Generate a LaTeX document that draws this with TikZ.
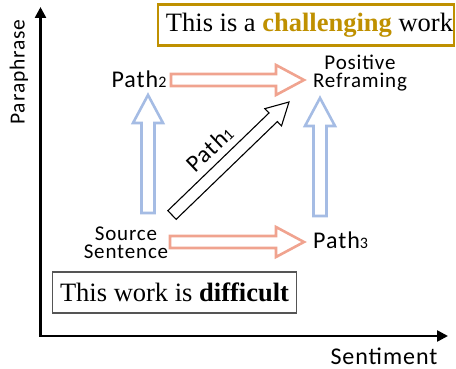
\documentclass[tikz,border=0pt]{standalone}
\usepackage{fontspec}
\setmainfont{Liberation Serif}
\newfontfamily\calfont[LetterSpace=4]{Carlito}
\usetikzlibrary{calc,arrows.meta}
\definecolor{gold}{RGB}{191,144,0}
\definecolor{salmon}{RGB}{240,163,143}
\definecolor{lblue}{RGB}{165,188,228}
\definecolor{boxgray}{RGB}{85,85,85}
\newcommand\pathsub[1]{{\fontsize{16}{16}\selectfont #1}}
\tikzset{
  blk/.style n args={3}{to path={
    let \p1=(\tikztostart), \p2=(\tikztotarget),
        \n1={atan2(\y2-\y1,\x2-\x1)},
        \n2={veclen(\x2-\x1,\y2-\y1)-#3} in
    ($(\p1)+({\n1+90}:#1)$)
    -- ($(\p1)+({\n1}:{\n2})+({\n1+90}:#1)$)
    -- ($(\p1)+({\n1}:{\n2})+({\n1+90}:#2)$)
    -- (\p2)
    -- ($(\p1)+({\n1}:{\n2})+({\n1-90}:#2)$)
    -- ($(\p1)+({\n1}:{\n2})+({\n1-90}:#1)$)
    -- ($(\p1)+({\n1-90}:#1)$) -- cycle}},
  pinkarr/.style={draw=salmon, line width=2.6pt, fill=white, line join=miter, blk={6pt}{15pt}{28pt}},
  bluearr/.style={draw=lblue, line width=2.6pt, fill=white, line join=miter, blk={6.5pt}{15pt}{28pt}},
  blackarr/.style={draw=black, line width=1.1pt, fill=white, line join=miter, blk={6pt}{12pt}{22pt}},
  axis/.style={line width=2.5pt, {Triangle[length=11pt,width=11pt]}-{Triangle[length=11pt,width=11pt]}},
  lbl/.style={font=\calfont\fontsize{21}{18.5}\selectfont, inner sep=1pt, align=center},
  pathlbl/.style={font=\calfont\fontsize{24}{24}\selectfont, inner sep=1pt},
  axlbl/.style={font=\calfont\fontsize{24}{24}\selectfont, inner sep=1pt},
  sentbox/.style={font=\fontsize{26.5}{26.5}\selectfont, inner sep=0pt},
}
\begin{document}
\begin{tikzpicture}[x=1pt,y=-1pt]
\useasboundingbox (0,0) rectangle (456,369);
% axes
\coordinate (ytop) at (40.5,7);
\coordinate (O) at (40.5,336);
\coordinate (xend) at (448,336);
\draw[axis] (ytop) -- (O) -- (xend);
\node[axlbl, font=\calfont\fontsize{21.5}{21.5}\selectfont, rotate=90] (yl) at (19,72) {Paraphrase};
\node[axlbl, anchor=base] (xl) at (384,364) {Sentiment};
% boxes
\node[draw=gold, line width=2.5pt, minimum width=296pt, minimum height=41pt, inner sep=0pt] (tgtbox) at (306,25) {};
\node[sentbox] (tgt) at (309.5,25) {This is a \textbf{\textcolor{gold}{challenging}} work};
\node[sentbox, draw=boxgray, line width=1.5pt, minimum width=244pt, minimum height=41pt] (src) at (174.5,292.5)
  {This work is \textbf{difficult}};
% labels
\node[pathlbl, anchor=base] (p2) at (139,88) {Path\pathsub{2}};
\node[pathlbl, anchor=base west] (p3) at (312,248) {Path\pathsub{3}};
\node[lbl] (pr) at (360,73) {Positive\\Reframing};
\node[lbl] (ss) at (126,243) {Source\\Sentence};
\node[pathlbl, rotate=43.5] (p1) at (209.5,148.5) {Path\pathsub{1}};
% arrow end points
\coordinate (a2s) at (171,80);  \coordinate (a2e) at (304,80);
\coordinate (a3s) at (170,242); \coordinate (a3e) at (304,242);
\coordinate (b2s) at (148,213); \coordinate (b2e) at (148,95);
\coordinate (b3s) at (320,216); \coordinate (b3e) at (320,98);
\coordinate (c1s) at (172,215); \coordinate (c1e) at (289,102);
% block arrows
\draw[pinkarr] (a2s) to (a2e);
\draw[pinkarr] (a3s) to (a3e);
\draw[bluearr] (b2s) to (b2e);
\draw[bluearr] (b3s) to (b3e);
\draw[blackarr] (c1s) to (c1e);
\end{tikzpicture}
\end{document}
